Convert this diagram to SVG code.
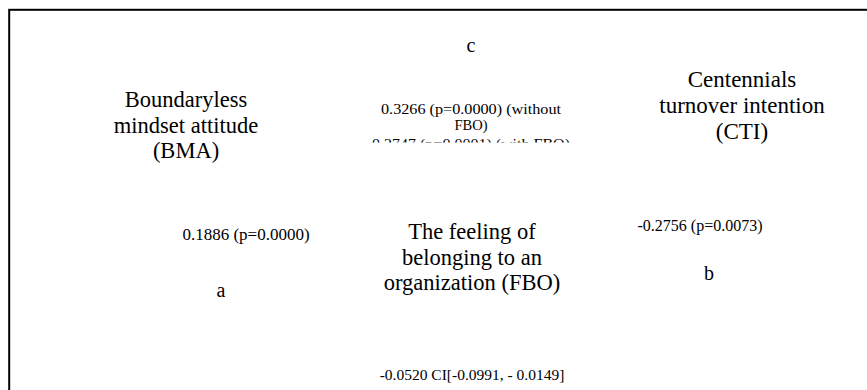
<svg xmlns="http://www.w3.org/2000/svg" width="867" height="390" viewBox="0 0 867 390">
<style>
text{font-family:"Liberation Serif","Times New Roman",serif;fill:#000;text-anchor:middle}
.lbl{font-size:22.5px}
.let{font-size:20px}
.num{font-size:16px}
.mid{font-size:14.5px}
</style>
<defs>
<clipPath id="clipC"><rect x="300" y="95" width="340" height="47.5"/></clipPath>
</defs>
<rect x="0" y="0" width="867" height="390" fill="#fff"/>
<rect id="frame" x="9.2" y="9.8" width="900" height="420" fill="none" stroke="#000" stroke-width="2"/>
<g id="connectors">
<text class="let" x="471" y="52">c</text>
<g clip-path="url(#clipC)">
<text class="mid" x="471" y="113.5" textLength="180" lengthAdjust="spacingAndGlyphs">0.3266 (p=0.0000) (without</text>
<text class="mid" x="471" y="129.5">FBO)</text>
<text class="mid" x="471" y="148.5" textLength="198" lengthAdjust="spacingAndGlyphs">0.2747 (p=0.0001) (with FBO)</text>
</g>
<text class="num" x="246" y="240" style="font-size:17px">0.1886 (p=0.0000)</text>
<text class="let" x="221" y="297">a</text>
<text class="num" x="700" y="231">-0.2756 (p=0.0073)</text>
<text class="let" x="709" y="280">b</text>
<text class="num" x="472" y="380" style="font-size:15.5px">-0.0520 CI[-0.0991, - 0.0149]</text>
</g>
<g id="BMA">
<text class="lbl" x="186" y="107">Boundaryless</text>
<text class="lbl" x="186" y="132.5">mindset attitude</text>
<text class="lbl" x="186" y="158">(BMA)</text>
</g>
<g id="CTI">
<text class="lbl" x="742" y="87" style="font-size:23px">Centennials</text>
<text class="lbl" x="742" y="113" style="font-size:23px">turnover intention</text>
<text class="lbl" x="742" y="139" style="font-size:23px">(CTI)</text>
</g>
<g id="FBO">
<text class="lbl" x="472" y="239">The feeling of</text>
<text class="lbl" x="472" y="264.5">belonging to an</text>
<text class="lbl" x="472" y="290">organization (FBO)</text>
</g>
</svg>
